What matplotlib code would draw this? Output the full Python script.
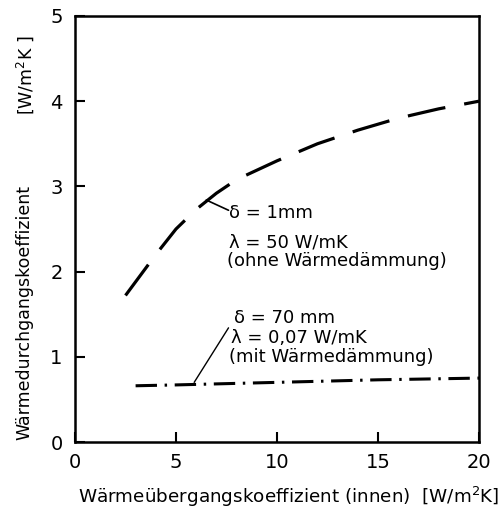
import numpy as np
import matplotlib
matplotlib.use("Agg")
import matplotlib.pyplot as plt

# values (x: inner heat transfer coefficient)
x_ohne = [2.5, 3, 4, 5, 6, 7, 8, 10, 12, 14, 16, 18, 20]
u_ohne = [1.72, 1.88, 2.2, 2.5, 2.73, 2.92, 3.08, 3.3, 3.5, 3.66, 3.8, 3.91, 4.0]

x_mit = [3, 5, 10, 15, 20]
u_mit = [0.66, 0.67, 0.70, 0.73, 0.75]

x_ticks = [0, 5, 10, 15, 20]
y_ticks = [0, 1, 2, 3, 4, 5]

fig = plt.figure(figsize=(5.01, 5.26), dpi=100)
ax = fig.add_axes([75 / 501, 84 / 526, 404 / 501, 426 / 526])

ax.plot(x_ohne, u_ohne, color="black", lw=2.3, ls=(0, (12, 6)), solid_capstyle="butt")
ax.plot(x_mit, u_mit, color="black", lw=2.2, ls=(0, (7, 2.5, 0.8, 2.5)))

ax.set_xlim(0, 20)
ax.set_ylim(0, 5)
ax.set_xticks(x_ticks)
ax.set_yticks(y_ticks)
ax.tick_params(direction="in", length=7, width=1.5, labelsize=14)
ax.tick_params(axis="x", pad=8)
ax.tick_params(axis="y", pad=9)
for s in ax.spines.values():
    s.set_linewidth(1.8)

# annotations
ax.annotate("", xy=(6.5, 2.84), xytext=(7.6, 2.72),
            arrowprops=dict(arrowstyle="-", lw=1.2, color="black", shrinkA=0, shrinkB=0))
ax.text(7.6, 2.69, "δ = 1mm", fontsize=13, va="center", ha="left")
ax.text(7.6, 2.34, "λ = 50 W/mK", fontsize=13, va="center", ha="left")
ax.text(7.5, 2.12, "(ohne Wärmedämmung)", fontsize=13, va="center", ha="left")

ax.annotate("", xy=(5.9, 0.70), xytext=(7.6, 1.34),
            arrowprops=dict(arrowstyle="-", lw=1.0, color="black", shrinkA=0, shrinkB=0))
ax.text(7.85, 1.46, "δ = 70 mm", fontsize=13, va="center", ha="left")
ax.text(7.7, 1.22, "λ = 0,07 W/mK", fontsize=13, va="center", ha="left")
ax.text(7.6, 1.00, "(mit Wärmedämmung)", fontsize=13, va="center", ha="left")

# axis labels
ax.text(-0.124, 0.005, "Wärmedurchgangskoeffizient", rotation=90, fontsize=12.5,
        ha="center", va="bottom", transform=ax.transAxes)
ax.text(-0.124, 0.955, "[W/m$^2$K ]", rotation=90, fontsize=12.5,
        ha="center", va="top", transform=ax.transAxes)
ax.text(0.007, -0.129, "Wärmeübergangskoeffizient (innen)  [W/m$^2$K]", fontsize=13.2,
        ha="left", va="center", transform=ax.transAxes)

fig.savefig("out.png", dpi=100)
